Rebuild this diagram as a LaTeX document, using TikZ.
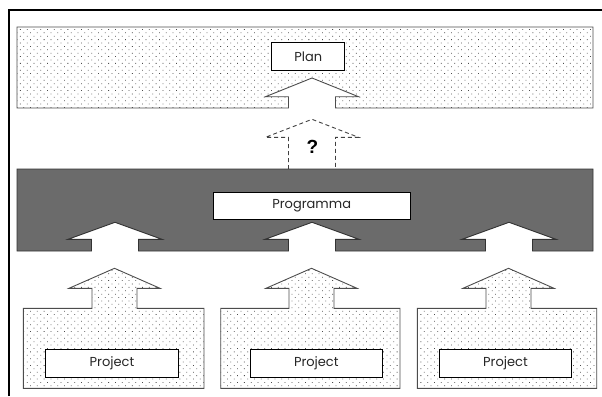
\documentclass[tikz,border=0pt]{standalone}
\usepackage{fontspec}
\setmainfont{Poppins}
\newfontfamily\qfont{Liberation Sans}
\usetikzlibrary{patterns.meta}

\tikzset{
  dotted band/.style={draw=black!70, line width=0.9pt, line join=miter,
    pattern={Dots[distance=4.8pt, angle=45, radius=0.55pt]}, pattern color=black!70},
  dark band/.style={draw=black!80, line width=0.9pt, line join=miter, fill=black!58},
  label box/.style={draw=black, line width=1.1pt, fill=white, inner sep=0pt,
    font=\fontsize{13}{15}\selectfont, text=black!85},
  guess arrow/.style={draw=black!75, line width=0.9pt, dashed, dash pattern=on 4pt off 3pt},
  frame line/.style={draw=black, line width=2pt},
}

\begin{document}
\begin{tikzpicture}[x=1pt, y=-1pt]
\useasboundingbox (0,0) rectangle (602,396);

% outer frame: only the left and top edges are visible
\draw[frame line] (9,396) -- (9,10) -- (602,10);

% top band with the arrow notch entering from below
\path[dotted band]
  (17,27) -- (593,27) -- (593,108) -- (335.5,108) -- (335.5,96.7) -- (358.5,96.7)
  -- (312,78) -- (265.5,96.7) -- (288.5,96.7) -- (288.5,108) -- (17,108) -- cycle;
\node[label box, minimum width=73pt, minimum height=28pt] (plan) at (308.3,56.5) {Plan};

% dashed arrow between the programme band and the plan band
\coordinate (qapex) at (312,119.3);
\draw[guess arrow] (288.5,169) -- (288.5,137.3) -- (265.5,137.3) -- (qapex)
  -- (358.5,137.3) -- (335.5,137.3) -- (335.5,169);
\node[font=\qfont\bfseries\fontsize{19}{21}\selectfont] (q) at (312.5,147) {?};

% dark programme band with three arrow notches
\path[dark band]
  (17,169) -- (593,169) -- (593,251)
  -- (532.5,251) -- (532.5,239.3) -- (556,239.3) -- (509,222.3) -- (462,239.3) -- (485.5,239.3) -- (485.5,251)
  -- (335.5,251) -- (335.5,239.3) -- (359,239.3) -- (312,222.3) -- (265,239.3) -- (288.5,239.3) -- (288.5,251)
  -- (138.5,251) -- (138.5,239.3) -- (162,239.3) -- (115,222.3) -- (68,239.3) -- (91.5,239.3) -- (91.5,251)
  -- (17,251) -- cycle;
\node[label box, minimum width=196.7pt, minimum height=27pt] (prog) at (311.7,205.8) {Programma};

% project boxes, each with an arrow pointing up
\foreach \l/\r/\c/\lc/\n in {23.3/204/114.5/112/p1, 220.7/400/311.5/316.3/p2, 417.3/596.7/508.5/505.5/p3}{
  \path[dotted band]
    (\l,308.3) -- (\c-22.5,308.3) -- (\c-22.5,288.3) -- (\c-45.5,288.3) -- (\c,268.3)
    -- (\c+45.5,288.3) -- (\c+22.5,288.3) -- (\c+22.5,308.3) -- (\r,308.3) -- (\r,388.3)
    -- (\l,388.3) -- cycle;
  \node[label box, minimum width=132.5pt, minimum height=28pt] (\n) at (\lc,363.3) {Project};
}
\end{tikzpicture}
\end{document}
